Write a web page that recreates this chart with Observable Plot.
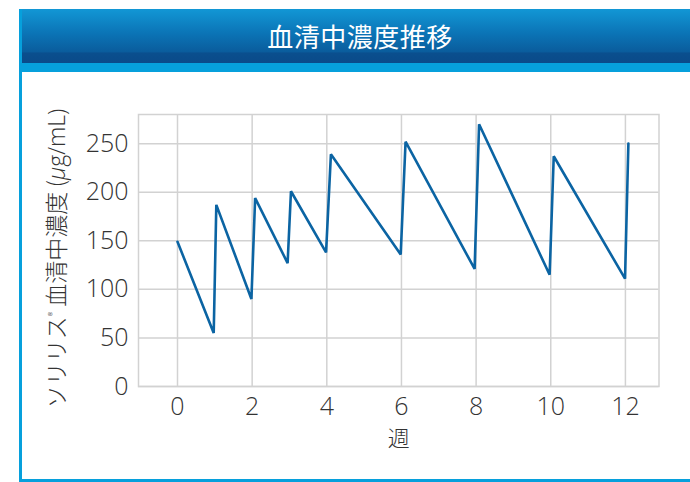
<!DOCTYPE html>
<html><head><meta charset="utf-8">
<script src="https://cdn.jsdelivr.net/npm/d3@7"></script>
<script src="https://cdn.jsdelivr.net/npm/@observablehq/plot@0.6"></script>
<style>
html,body{margin:0;padding:0;background:#fff}
body{width:690px;height:482px;position:relative;overflow:hidden;font-family:"Noto Sans CJK JP","Noto Sans",sans-serif}
#outer{position:absolute;left:19px;top:9px;width:680px;height:473px;background:#06a0dc}
#header{position:absolute;left:22px;top:9px;width:668px;height:54px;
  background:linear-gradient(#1297d5 0%,#0b74b6 45%,#0a5c9c 80%,#0a4f8e 81%,#0a4a89 100%);
  color:#fff;font-size:26px;line-height:54px;text-align:center;box-sizing:border-box;padding-left:8px;letter-spacing:0.5px}
#inner{position:absolute;left:22px;top:72px;width:668px;height:407px;background:#fff}
#chart{position:absolute;left:22px;top:72px}
#chart svg{overflow:visible}
</style></head>
<body>
<div id="outer"></div>
<div id="header">血清中濃度推移</div>
<div id="inner"></div>
<div id="chart"></div>
<script>
const weeks = [0, 0.97, 1.04, 1.98, 2.08, 2.95, 3.04, 3.98, 4.11, 5.98, 6.11, 7.96, 8.08, 9.97, 10.08, 11.99, 12.08];
const conc  = [149, 55, 187, 90, 194, 127, 201, 138, 239, 136, 252, 121, 270, 115, 237, 111, 250];
const xTicks = [0, 2, 4, 6, 8, 10, 12];
const yTicks = [0, 50, 100, 150, 200, 250];
const xLabel = "週";
const yLabel = "ソリリス® 血清中濃度(μg/mL)";

const data = weeks.map((w, i) => ({week: w, conc: conc[i]}));
const gridColor = "#d2d2d2";
const numFont = '"Open Sans", "Noto Sans CJK JP", sans-serif';
const cjkFont = '"Noto Sans CJK JP", "Noto Sans", sans-serif';

const chart = Plot.plot({
  width: 668, height: 407,
  marginLeft: 116, marginRight: 31.5, marginTop: 42, marginBottom: 93,
  x: {domain: [-1.045, 12.9], label: null},
  y: {domain: [0, 280], label: null},
  style: {fontFamily: cjkFont, fontSize: "22px", color: "#333", background: "transparent", overflow: "visible"},
  marks: [
    Plot.gridX(xTicks, {stroke: gridColor, strokeOpacity: 1, strokeWidth: 1.5}),
    Plot.gridY(yTicks, {stroke: gridColor, strokeOpacity: 1, strokeWidth: 1.5}),
    Plot.frame({stroke: gridColor, strokeWidth: 1.5}),
    Plot.axisX(xTicks, {tickSize: 0, tickPadding: 11, label: null, fontSize: 25, fontWeight: 300, fontFamily: numFont, fill: "#333"}),
    Plot.axisY(yTicks, {tickSize: 0, tickPadding: 10, label: null, fontSize: 25, fontWeight: 300, fontFamily: numFont, fill: "#333"}),
    Plot.line(data, {x: "week", y: "conc", stroke: "#0b64a3", strokeWidth: 2.6, strokeLinejoin: "miter"}),
    Plot.text([xLabel], {frameAnchor: "bottom", lineAnchor: "middle", dy: 52, text: d => d, fontSize: 22, fill: "#333", fontWeight: 300}),
    Plot.text([yLabel], {frameAnchor: "left", textAnchor: "middle", lineAnchor: "middle", rotate: -90, dx: -81, dy: 8, text: d => d, fontSize: 23, fill: "#333", fontWeight: 300})
  ]
});
document.getElementById("chart").appendChild(chart);

d3.select(chart).selectAll("text").filter(function() { return this.textContent === yLabel; }).each(function() {
  const t = d3.select(this);
  t.text(null);
  t.append("tspan").text("ソリリス");
  t.append("tspan").attr("font-size", "10px").attr("dy", "-9").text("®");
  t.append("tspan").attr("dy", "9").text(" 血清中濃度\u2009(");
  t.append("tspan").attr("font-style", "italic").attr("font-family", numFont).text("μ");
  t.append("tspan").attr("font-family", numFont).text("g/mL)");
});
</script>
</body></html>
